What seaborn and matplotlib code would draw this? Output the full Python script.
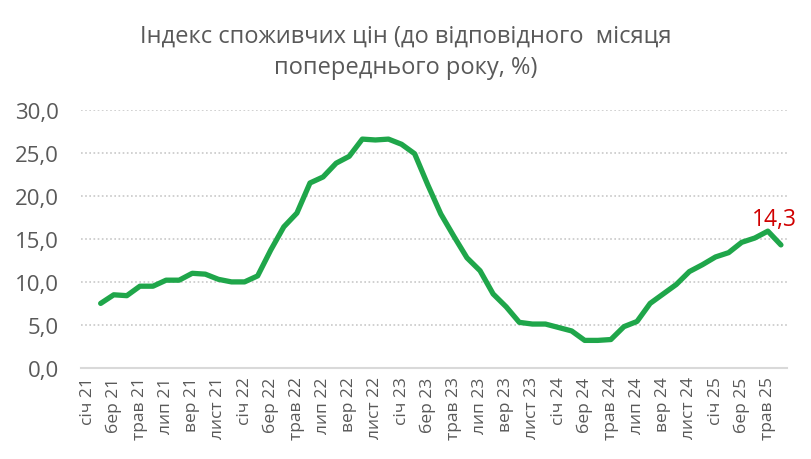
import numpy as np
import pandas as pd
import matplotlib
matplotlib.use('Agg')
import matplotlib.pyplot as plt
import seaborn as sns

# Місяці та роки (категорії осі X: січ 21 ... черв 25)
month_names = ['січ', 'лют', 'бер', 'квіт', 'трав', 'черв',
               'лип', 'серп', 'вер', 'жовт', 'лист', 'груд']
years = ['21', '22', '23', '24', '25']

# ІСЦ, % до відповідного місяця попереднього року
cpi_2021 = [np.nan, 7.5, 8.5, 8.4, 9.5, 9.5, 10.2, 10.2, 11.0, 10.9, 10.3, 10.0]
cpi_2022 = [10.0, 10.7, 13.7, 16.4, 18.0, 21.5, 22.2, 23.8, 24.6, 26.6, 26.5, 26.6]
cpi_2023 = [26.0, 24.9, 21.3, 17.9, 15.3, 12.8, 11.3, 8.6, 7.1, 5.3, 5.1, 5.1]
cpi_2024 = [4.7, 4.3, 3.2, 3.2, 3.3, 4.8, 5.4, 7.5, 8.6, 9.7, 11.2, 12.0]
cpi_2025 = [12.9, 13.4, 14.6, 15.1, 15.9, 14.3]

values = cpi_2021 + cpi_2022 + cpi_2023 + cpi_2024 + cpi_2025
categories = [f'{m} {y}' for y in years for m in month_names][:len(values)]

df = pd.DataFrame({'idx': range(len(values)), 'month': categories, 'cpi': values})

sns.set_style('white')
plt.rcParams['font.family'] = ['Open Sans', 'DejaVu Sans']

fig = plt.figure(figsize=(8.12, 4.6), dpi=100)
ax = fig.add_axes([0.0998, 0.198, 0.870, 0.561])

sns.lineplot(data=df, x='idx', y='cpi', ax=ax, color='#1fa64a', linewidth=3.8,
             solid_joinstyle='round', solid_capstyle='round')

ax.set_xlim(-0.5, len(values) - 0.5)
ax.set_ylim(0, 30)
ax.set_yticks(np.arange(0, 31, 5))
ax.set_yticklabels([f'{v:.1f}'.replace('.', ',') for v in np.arange(0, 31, 5)],
                   fontsize=16, color='#595959')
ax.tick_params(axis='y', length=0, pad=16)

ax.set_xticks(df['idx'][::2])
ax.set_xticklabels(df['month'][::2], rotation=90, fontsize=12.5, color='#595959')
ax.tick_params(axis='x', length=0, pad=6)

ax.set_xlabel('')
ax.set_ylabel('')

for y in range(5, 31, 5):
    ax.axhline(y, color='#c8c8c8', linestyle=(0, (1, 1.5)), linewidth=1.2, zorder=0)

for side in ['top', 'right', 'left']:
    ax.spines[side].set_visible(False)
ax.spines['bottom'].set_color('#d9d9d9')
ax.spines['bottom'].set_linewidth(1.5)

# підпис останнього значення
last = df.iloc[-1]
ax.annotate(f"{last['cpi']:.1f}".replace('.', ','), (last['idx'], last['cpi']),
            xytext=(-5, 19), textcoords='offset points', ha='center', va='center',
            fontsize=16.5, color='#d00000')

fig.text(0.5, 0.92, 'Індекс споживчих цін (до відповідного  місяця',
         ha='center', va='center', fontsize=17, color='#595959')
fig.text(0.5, 0.853, 'попереднього року, %)',
         ha='center', va='center', fontsize=17, color='#595959')

fig.savefig('out.png', dpi=100)
